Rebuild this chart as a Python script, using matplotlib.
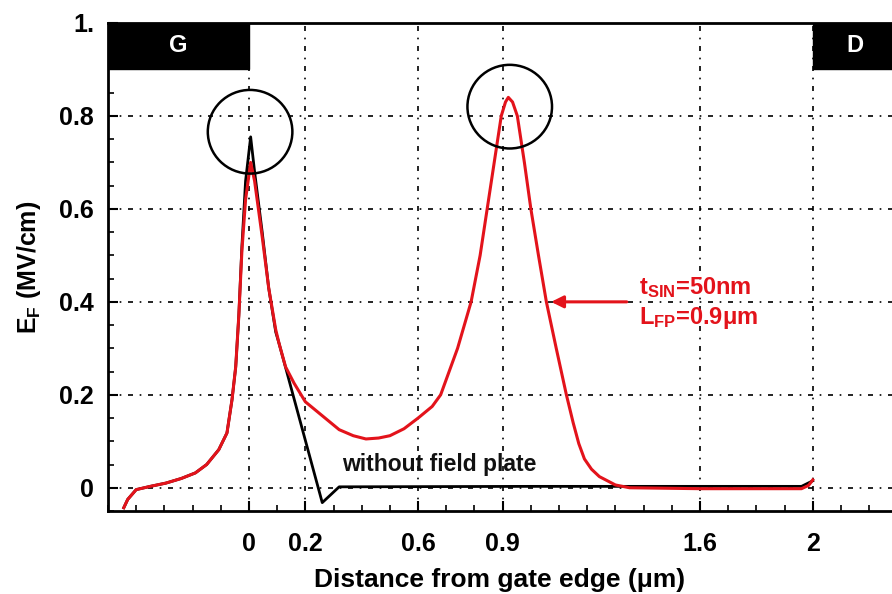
import numpy as np
import matplotlib
matplotlib.use("Agg")
import matplotlib.pyplot as plt
from matplotlib.patches import Rectangle, Ellipse

plt.rcParams['font.family'] = ['Liberation Sans', 'DejaVu Sans']
plt.rcParams['font.weight'] = 'bold'
plt.rcParams['axes.labelweight'] = 'bold'
plt.rcParams['mathtext.fontset'] = 'custom'
plt.rcParams['mathtext.rm'] = 'Liberation Sans:bold'
plt.rcParams['mathtext.bf'] = 'Liberation Sans:bold'
plt.rcParams['mathtext.it'] = 'Liberation Sans:bold'

# with field plate (red)
x_fp = [-0.444, -0.43, -0.40, -0.35, -0.295, -0.24, -0.19, -0.15, -0.107, -0.078,
        -0.06, -0.047, -0.036, -0.025, -0.012, 0.006, 0.02, 0.047, 0.07, 0.095,
        0.107, 0.13, 0.16, 0.2, 0.26, 0.32, 0.37, 0.415, 0.46, 0.5, 0.55, 0.6,
        0.65, 0.68, 0.74, 0.788, 0.82, 0.845, 0.87, 0.895, 0.91, 0.92, 0.935,
        0.952, 0.977, 1.0, 1.027, 1.055, 1.09, 1.126, 1.15, 1.17, 1.19, 1.215,
        1.243, 1.30, 1.35, 1.6, 1.96, 1.985, 2.0]
y_fp = [-0.043, -0.025, -0.004, 0.003, 0.01, 0.02, 0.032, 0.05, 0.082, 0.118,
        0.19, 0.26, 0.37, 0.51, 0.62, 0.70, 0.66, 0.54, 0.43, 0.34,
        0.31, 0.26, 0.225, 0.185, 0.155, 0.125, 0.112, 0.105, 0.107, 0.112, 0.127, 0.15,
        0.175, 0.2, 0.3, 0.4, 0.5, 0.6, 0.7, 0.8, 0.83, 0.84, 0.83,
        0.8, 0.7, 0.6, 0.5, 0.4, 0.3, 0.2, 0.14, 0.095, 0.062, 0.04,
        0.024, 0.006, 0.0, -0.002, -0.002, 0.005, 0.017]

# without field plate (black)
x_nofp = [-0.444, -0.43, -0.40, -0.35, -0.295, -0.24, -0.19, -0.15, -0.107, -0.078,
          -0.06, -0.047, -0.036, -0.025, -0.012, 0.006, 0.02, 0.047, 0.07, 0.095,
          0.107, 0.26, 0.32, 1.0, 1.96, 2.0]
y_nofp = [-0.043, -0.025, -0.004, 0.003, 0.01, 0.02, 0.032, 0.05, 0.082, 0.118,
          0.19, 0.26, 0.37, 0.52, 0.66, 0.755, 0.68, 0.55, 0.43, 0.335,
          0.31, -0.032, 0.002, 0.003, 0.003, 0.015]

xticks = [0, 0.2, 0.6, 0.9, 1.6, 2]
xtick_labels = ['0', '0.2', '0.6', '0.9', '1.6', '2']
yticks = [0, 0.2, 0.4, 0.6, 0.8, 1.0]
ytick_labels = ['0', '0.2', '0.4', '0.6', '0.8', '1.']

red = '#e3131b'

fig = plt.figure(figsize=(8.92, 5.94), dpi=100)
ax = fig.add_axes([108 / 892, 83 / 594, 784 / 892, 488 / 594])
ax.set_xlim(-0.5, 2.281)
ax.set_ylim(-0.05, 1.0)

# electrodes
ax.add_patch(Rectangle((-0.5, 0.9), 0.5, 0.1, color='black', zorder=3))
ax.add_patch(Rectangle((2.0, 0.9), 0.5, 0.1, color='black', zorder=3))
ax.text(-0.25, 0.952, 'G', color='white', fontsize=17, ha='center', va='center', zorder=4)
ax.text(2.15, 0.952, 'D', color='white', fontsize=17, ha='center', va='center', zorder=4)

ax.plot(x_nofp, y_nofp, color='black', lw=2.0, zorder=5)
ax.plot(x_fp, y_fp, color=red, lw=2.2, zorder=6)

# peak markers
ax.add_patch(Ellipse((0.004, 0.766), 0.30, 0.18, fill=False, ec='black', lw=1.8, zorder=7))
ax.add_patch(Ellipse((0.925, 0.82), 0.30, 0.18, fill=False, ec='black', lw=1.8, zorder=7))

ax.text(0.33, 0.05, 'without field plate', fontsize=16.5, color='#111111', ha='left', va='center', zorder=8)

ax.annotate('', xy=(1.062, 0.40), xytext=(1.35, 0.40),
            arrowprops=dict(arrowstyle='-|>', color=red, lw=2.2, mutation_scale=18), zorder=8)
ax.text(1.385, 0.43, r'$\mathregular{t_{SIN}}$=50nm', color=red, fontsize=17, ha='left', va='center')
ax.text(1.385, 0.365, r'$\mathregular{L_{FP}}$=0.9μm', color=red, fontsize=17, ha='left', va='center')

ax.set_xticks(xticks)
ax.set_xticklabels(xtick_labels)
ax.set_yticks(yticks)
ax.set_yticklabels(ytick_labels)
ax.set_xticks(np.arange(-0.5, 2.25, 0.1), minor=True)
ax.set_yticks(np.arange(-0.05, 1.0, 0.05), minor=True)
ax.tick_params(axis='both', which='major', direction='in', length=7, width=1.5, labelsize=18, pad=10)
ax.tick_params(axis='x', which='major', pad=15)
ax.tick_params(axis='both', which='minor', direction='in', length=4, width=1.2)
ax.tick_params(top=False, right=False, which='both')

ax.grid(True, which='major', color='black', lw=1.2, linestyle=(0, (3, 4, 1, 4)))
ax.set_axisbelow(True)

for s in ['left', 'bottom', 'top']:
    ax.spines[s].set_linewidth(2)
ax.spines['right'].set_visible(False)

ax.set_xlabel('Distance from gate edge (μm)', fontsize=19, labelpad=9)
ax.set_ylabel(r'$\mathregular{E_F}$ (MV/cm)', fontsize=18, labelpad=12)

fig.savefig('out.png', dpi=100)
